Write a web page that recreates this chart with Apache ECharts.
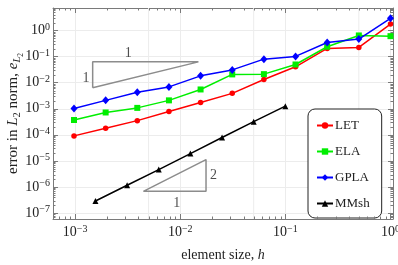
<!DOCTYPE html>
<html><head><meta charset="utf-8">
<script src="https://cdn.jsdelivr.net/npm/echarts@6/dist/echarts.min.js"></script>
<style>html,body{margin:0;padding:0;background:#fff}#c{width:398px;height:265px}</style>
</head><body><div id="c"></div>
<script>
// ---- data ----
const h = [1/1024, 1/512, 1/256, 1/128, 1/64, 1/32, 1/16, 1/8, 1/4, 1/2, 1];
const LET  = [9.1e-5, 1.8e-4, 3.5e-4, 7.9e-4, 1.74e-3, 3.9e-3, 1.33e-2, 4.07e-2, 0.207, 0.226, 1.78];
const ELA  = [3.7e-4, 7.2e-4, 1.08e-3, 2.1e-3, 5.5e-3, 2.08e-2, 2.13e-2, 5.0e-2, 0.24, 0.65, 0.61];
const GPLA = [1.02e-3, 2.1e-3, 4.3e-3, 6.9e-3, 1.83e-2, 3.1e-2, 8.0e-2, 0.102, 0.35, 0.47, 2.95];
const hMM  = [0.1/64, 0.1/32, 0.1/16, 0.1/8, 0.1/4, 0.1/2, 0.1];
const MMsh = [2.9e-7, 1.16e-6, 4.65e-6, 1.9e-5, 7.9e-5, 3.2e-4, 1.26e-3];
const seriesNames = ['LET', 'ELA', 'GPLA', 'MMsh'];
// slope triangles (h, e)
const tri1H = [1.47e-3, 1.47e-3, 1.49e-2, 1.47e-3];
const tri1E = [6.35e-3, 6.3e-2, 6.3e-2, 6.35e-3];
const tri2H = [4.46e-3, 1.76e-2, 1.76e-2, 4.46e-3];
const tri2E = [6.8e-7, 6.8e-7, 1.12e-5, 6.8e-7];
const triLabelH = [3.2e-3, 1.27e-3, 9.27e-3, 2.07e-2];
const triLabelE = [0.133, 1.45e-2, 2.3e-7, 2.8e-6];
const triLabelText = ['1', '1', '1', '2'];
// axes
const xMin = Math.pow(10, -3.21), xMax = Math.pow(10, 0.024);
const yMin = Math.pow(10, -7.23), yMax = Math.pow(10, 0.866);
const xTickExps = [-3, -2, -1, 0];
const yTickExps = [-7, -6, -5, -4, -3, -2, -1, 0];
const xName = 'element size, ';

const FONT = 'Liberation Serif';
const TXT = '#222';
const FRAME = '#7a7a7a';

function supLabel(v) {
  const e = Math.round(Math.log10(v));
  return '{b|10}{s|' + (e < 0 ? '\u2212' + (-e) : e) + '}';
}
const supRich = {
  b: {fontSize: 14, lineHeight: 17, fontFamily: FONT, color: TXT},
  s: {fontSize: 10, lineHeight: 10, verticalAlign: 'top', fontFamily: FONT, color: TXT}
};

function minors(lo, hi) {
  const out = [];
  for (let k = Math.floor(Math.log10(lo)); k <= Math.ceil(Math.log10(hi)); k++) {
    for (let m = 2; m <= 9; m++) {
      const v = m * Math.pow(10, k);
      if (v > lo && v < hi) out.push(v);
    }
  }
  return out;
}
const xMinor = minors(xMin, xMax);
const yMinor = minors(yMin, yMax);
const xFaintGrid = xTickExps.map(e => 5 * Math.pow(10, e)).filter(v => v < xMax);

function zip(a, b) { return a.map((v, i) => [v, b[i]]); }

const chart = echarts.init(document.getElementById('c'), null, {renderer: 'canvas'});
const axisCommon = {
  type: 'log', logBase: 10,
  axisLine: {show: true, lineStyle: {color: FRAME, width: 1}},
  axisTick: {show: true, inside: true, length: 5, lineStyle: {color: FRAME}},
  minorTick: {show: false},
};
chart.setOption({
  animation: false,
  backgroundColor: '#fff',
  grid: {left: 53, right: 5, top: 8, bottom: 46, containLabel: false, outerBoundsMode: 'none'},
  xAxis: [
    Object.assign({}, axisCommon, {
      position: 'bottom', min: xMin, max: xMax,
      axisLabel: {formatter: supLabel, rich: supRich, margin: 5,
        customValues: xTickExps.map(e => Math.pow(10, e))},
      splitLine: {show: true, lineStyle: {color: '#ececec', width: 1}},
      name: '{n|' + xName + '}{i|h}', nameLocation: 'middle', nameGap: 29, nameMoveOverlap: false,
      nameTextStyle: {rich: {n: {fontSize: 14, fontFamily: FONT, color: TXT}, i: {fontSize: 14, fontFamily: FONT, fontStyle: 'italic', color: TXT}}}
    }),
    Object.assign({}, axisCommon, {
      position: 'top', min: xMin, max: xMax, axisLabel: {show: false}, splitLine: {show: false}
    })
  ],
  yAxis: [
    Object.assign({}, axisCommon, {
      position: 'left', min: yMin, max: yMax, splitNumber: 8,
      axisLabel: {formatter: supLabel, rich: supRich, margin: 3,
        customValues: yTickExps.map(e => Math.pow(10, e))},
      splitLine: {show: true, lineStyle: {color: '#ececec', width: 1}},
      name: '{n|error in }{i|L}{s|2}{n| norm, }{i|e}{si|L}{ss|2}', nameLocation: 'middle', nameGap: 31, nameMoveOverlap: false,
      nameTextStyle: {rich: {
        n: {fontSize: 15, lineHeight: 18, fontFamily: FONT, color: TXT},
        i: {fontSize: 15, lineHeight: 18, fontFamily: FONT, fontStyle: 'italic', color: TXT},
        s: {fontSize: 10.5, lineHeight: 10, fontFamily: FONT, color: TXT, verticalAlign: 'top', padding: [8, 0, 0, 0]},
        si: {fontSize: 10.5, lineHeight: 10, fontFamily: FONT, fontStyle: 'italic', color: TXT, verticalAlign: 'top', padding: [8, 0, 0, 0]},
        ss: {fontSize: 7.5, lineHeight: 7, fontFamily: FONT, color: TXT, verticalAlign: 'top', padding: [13, 0, 0, 0]}
      }}
    }),
    Object.assign({}, axisCommon, {
      position: 'right', min: yMin, max: yMax, splitNumber: 8, axisLabel: {show: false}, splitLine: {show: false}
    })
  ],
  legend: {
    data: seriesNames, orient: 'vertical', left: 308, top: 109,
    itemWidth: 16, itemHeight: 8, itemGap: 13,
    padding: [10, 12, 8, 8],
    borderColor: '#222', borderWidth: 1, borderRadius: 7, backgroundColor: '#fff',
    textStyle: {fontFamily: FONT, fontSize: 13, color: TXT, padding: [0, 0, 0, -3]}
  },
  series: [
    {type: 'custom', name: 'xgrid', silent: true, z: 1, data: xFaintGrid,
     renderItem: (params, api) => {
       const cs = params.coordSys; const x = api.coord([api.value(0), 1])[0];
       return {type: 'line', shape: {x1: x, y1: cs.y, x2: x, y2: cs.y + cs.height}, style: {stroke: '#ececec', lineWidth: 1}};
     }, encode: {x: 0}},
    {type: 'custom', name: 'xminor', silent: true, z: 5, data: xMinor,
     renderItem: (params, api) => {
       const cs = params.coordSys; const x = Math.round(api.coord([api.value(0), 1])[0]) + 0.5;
       return {type: 'group', children: [
         {type: 'line', shape: {x1: x, y1: cs.y + cs.height, x2: x, y2: cs.y + cs.height - 2.5}, style: {stroke: FRAME, lineWidth: 1}},
         {type: 'line', shape: {x1: x, y1: cs.y, x2: x, y2: cs.y + 2.5}, style: {stroke: FRAME, lineWidth: 1}}
       ]};
     }, encode: {x: 0}},
    {type: 'custom', name: 'yminor', silent: true, z: 5, data: yMinor.map(v => [1e-2, v]),
     renderItem: (params, api) => {
       const cs = params.coordSys; const y = Math.round(api.coord([1e-2, api.value(1)])[1]) + 0.5;
       return {type: 'group', children: [
         {type: 'line', shape: {x1: cs.x, y1: y, x2: cs.x + 2.5, y2: y}, style: {stroke: FRAME, lineWidth: 1}},
         {type: 'line', shape: {x1: cs.x + cs.width, y1: y, x2: cs.x + cs.width - 2.5, y2: y}, style: {stroke: FRAME, lineWidth: 1}}
       ]};
     }, encode: {x: 0, y: 1}},
    {type: 'line', name: 'tri1', data: zip(tri1H, tri1E), symbol: 'none', silent: true,
     lineStyle: {color: '#8c8c8c', width: 1.5}, z: 3},
    {type: 'line', name: 'tri2', data: zip(tri2H, tri2E), symbol: 'none', silent: true,
     lineStyle: {color: '#8c8c8c', width: 1.5}, z: 3},
    {type: 'scatter', name: 'trilabels', silent: true, symbolSize: 0,
     data: triLabelH.map((v, i) => [v, triLabelE[i], triLabelText[i]]),
     label: {show: true, position: 'inside', formatter: p => p.data[2], fontFamily: FONT, fontSize: 14, color: TXT}},
    {type: 'line', name: 'LET', data: zip(h, LET), symbol: 'circle', symbolSize: 5.5,
     itemStyle: {color: '#ff0000'}, lineStyle: {color: '#ff0000', width: 1.5}, z: 10},
    {type: 'line', name: 'ELA', data: zip(h, ELA), symbol: 'rect', symbolSize: 6,
     itemStyle: {color: '#00ee00'}, lineStyle: {color: '#00ee00', width: 1.5}, z: 11},
    {type: 'line', name: 'GPLA', data: zip(h, GPLA), symbol: 'diamond', symbolSize: [7, 8],
     itemStyle: {color: '#0000ff'}, lineStyle: {color: '#0000ff', width: 1.5}, z: 12},
    {type: 'line', name: 'MMsh', data: zip(hMM, MMsh), symbol: 'triangle', symbolSize: 6,
     itemStyle: {color: '#000'}, lineStyle: {color: '#000', width: 1.5}, z: 13}
  ]
});
</script></body></html>
